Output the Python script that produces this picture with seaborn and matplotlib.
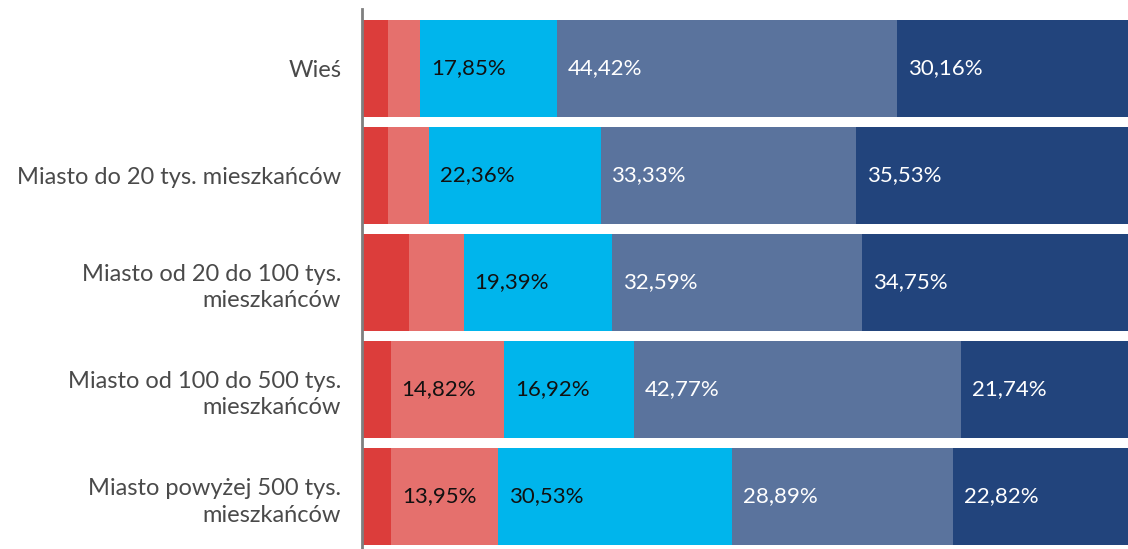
import pandas as pd
import seaborn as sns
import matplotlib.pyplot as plt

# Data
categories = ["Wieś", "Miasto do 20 tys. mieszkańców", "Miasto od 20 do 100 tys.\nmieszkańców",
              "Miasto od 100 do 500 tys.\nmieszkańców", "Miasto powyżej 500 tys.\nmieszkańców"]
seg1 = [3.40, 3.45, 6.20, 3.75, 3.81]
seg2 = [4.17, 5.33, 7.07, 14.82, 13.95]
seg3 = [17.85, 22.36, 19.39, 16.92, 30.53]
seg4 = [44.42, 33.33, 32.59, 42.77, 28.89]
seg5 = [30.16, 35.53, 34.75, 21.74, 22.82]

colors = ["#dc3d3b", "#e5706d", "#00b5ec", "#5a739d", "#22447c"]
text_colors = ["#111111", "#111111", "#111111", "white", "white"]

df = pd.DataFrame({"cat": categories, "s1": seg1, "s2": seg2, "s3": seg3, "s4": seg4, "s5": seg5})
segs = ["s1", "s2", "s3", "s4", "s5"]
cum = df[segs].cumsum(axis=1)
starts = cum - df[segs].values

sns.set_theme(style="white")
plt.rcParams["font.family"] = ["Lato", "DejaVu Sans"]

fig = plt.figure(figsize=(11.28, 5.49), dpi=100)
ax = fig.add_axes([362 / 1128, 0, 1 - 362 / 1128, 540 / 549])

# stacked bars: draw cumulative totals from the back to the front
for i in reversed(range(5)):
    sns.barplot(x=cum[segs[i]], y=df["cat"], color=colors[i], width=0.9,
                saturation=1, orient="h", linewidth=0, ax=ax)

for i, s in enumerate(segs):
    for j in range(len(df)):
        v = df[s].iloc[j]
        if v >= 10:
            ax.text(starts[s].iloc[j] + 1.4, j, f"{v:.2f}%".replace(".", ","),
                    va="center", ha="left", fontsize=16, color=text_colors[i])

ax.set_xlim(0, 100)
ax.set_ylim(4.49, -0.556)
ax.set_xlabel("")
ax.set_ylabel("")
ax.set_xticks([])
ax.tick_params(axis="y", length=0, pad=15, labelsize=17, labelcolor="#4a4a4a")
for lbl in ax.get_yticklabels():
    lbl.set_linespacing(1.35)
for sp in ["top", "right", "bottom"]:
    ax.spines[sp].set_visible(False)
ax.spines["left"].set_color("#7f7f7f")
ax.spines["left"].set_linewidth(2)
ax.spines["left"].set_zorder(5)

plt.savefig("out.png", dpi=100)
